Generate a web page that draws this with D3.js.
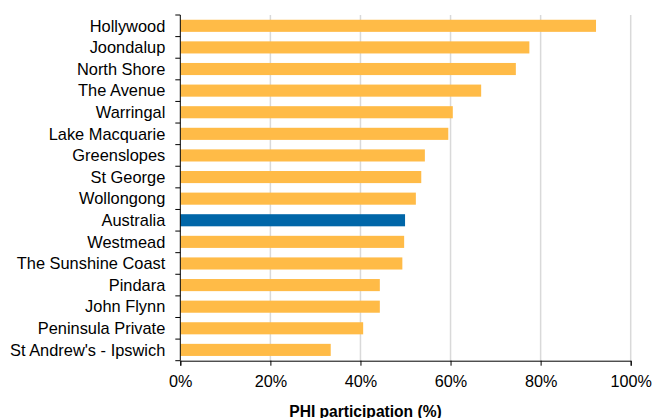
<!DOCTYPE html>
<html><head><meta charset="utf-8">
<script src="https://cdn.jsdelivr.net/npm/d3@7"></script>
<style>body{margin:0;background:#fff}svg{display:block}text{font-family:"Liberation Sans",Arial,sans-serif}</style>
</head><body><svg id="c" width="654" height="418"></svg>
<script>
const categories = ["Hollywood","Joondalup","North Shore","The Avenue","Warringal","Lake Macquarie","Greenslopes","St George","Wollongong","Australia","Westmead","The Sunshine Coast","Pindara","John Flynn","Peninsula Private","St Andrew's - Ipswich"];
const values = [92.3,77.5,74.5,66.8,60.5,59.5,54.3,53.5,52.3,49.9,49.7,49.3,44.3,44.3,40.6,33.4];
const xTicks = [0,20,40,60,80,100];
const xTitle = "PHI participation (%)";
const highlight = "Australia";

const svg = d3.select("#c");
const m = {l:180.3, r:654-630.7, t:15, b:418-360.7};
const W = 654-m.l-m.r, H = 418-m.t-m.b;
const g = svg.append("g").attr("transform",`translate(${m.l},${m.t})`);
const x = d3.scaleLinear().domain([0,100]).range([0,W]);
const y = d3.scaleBand().domain(categories).range([0,H]).paddingInner(0.44).paddingOuter(0.22);

g.append("g").selectAll("line").data(xTicks.slice(1)).join("line")
  .attr("x1",d=>x(d)).attr("x2",d=>x(d)).attr("y1",0).attr("y2",H)
  .attr("stroke","#d9d9d9").attr("stroke-width",1.5);

g.append("g").selectAll("rect").data(categories).join("rect")
  .attr("x",0).attr("y",d=>y(d)).attr("height",y.bandwidth())
  .attr("width",(d,i)=>x(values[i]))
  .attr("fill",d=>d===highlight?"#0066A8":"#FFBB47");

// y axis with boundary ticks
const yb = d3.scaleLinear().domain([0,categories.length]).range([0,H]);
const ya = g.append("g");
ya.append("line").attr("x1",0).attr("x2",0).attr("y1",0).attr("y2",H).attr("stroke","#000");
ya.selectAll("line.t").data(d3.range(categories.length+1)).join("line").attr("class","t")
  .attr("x1",-5).attr("x2",0).attr("y1",d=>yb(d)).attr("y2",d=>yb(d)).attr("stroke","#000");
ya.selectAll("text").data(categories).join("text")
  .attr("x",-15).attr("y",d=>y(d)+y.bandwidth()/2).attr("dy","0.35em")
  .attr("text-anchor","end").attr("font-size",16.4).attr("fill","#000").text(d=>d);

const xa = g.append("g").attr("transform",`translate(0,${H})`)
  .call(d3.axisBottom(x).tickValues(xTicks).tickSize(5).tickPadding(10).tickFormat(d=>d+"%"));
xa.select(".domain").attr("stroke","#000");
xa.selectAll(".tick line").attr("stroke","#000");
xa.selectAll("text").attr("font-size",16.2).attr("fill","#000").attr("font-family","Liberation Sans, Arial, sans-serif");

svg.append("text").attr("x",365.5).attr("y",416.5).attr("text-anchor","middle")
  .attr("font-size",15.6).attr("font-weight","bold").text(xTitle);
</script></body></html>
